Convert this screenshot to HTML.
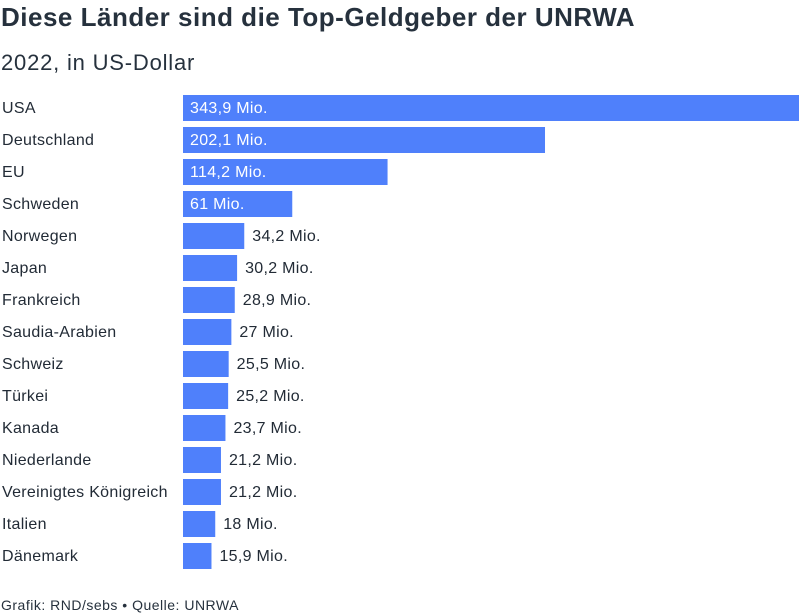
<!DOCTYPE html>
<html><head><meta charset="utf-8"><style>
body{margin:0;width:800px;height:616px;background:#fff;font-family:"Liberation Sans",sans-serif;color:#222b36;overflow:hidden;position:relative}
#title{position:absolute;left:1px;top:2px;font-size:26px;font-weight:bold;color:#26313d;letter-spacing:0.5px;white-space:nowrap}
#sub{position:absolute;left:1px;top:50px;font-size:22px;color:#26313d;letter-spacing:0.8px;white-space:nowrap}
#foot{position:absolute;left:1px;top:597px;font-size:14px;color:#26313d;letter-spacing:0.5px;white-space:nowrap}
svg{position:absolute;left:0;top:0}
</style></head><body>
<div id="title">Diese Länder sind die Top-Geldgeber der UNRWA</div>
<div id="sub">2022, in US-Dollar</div>
<svg id="chart" width="800" height="616"></svg>
<div id="foot">Grafik: RND/sebs • Quelle: UNRWA</div>
<script>
const categories=["USA","Deutschland","EU","Schweden","Norwegen","Japan","Frankreich","Saudia-Arabien","Schweiz","Türkei","Kanada","Niederlande","Vereinigtes Königreich","Italien","Dänemark"];
const values=[343.9,202.1,114.2,61,34.2,30.2,28.9,27,25.5,25.2,23.7,21.2,21.2,18,15.9];
const valueLabels=["343,9 Mio.","202,1 Mio.","114,2 Mio.","61 Mio.","34,2 Mio.","30,2 Mio.","28,9 Mio.","27 Mio.","25,5 Mio.","25,2 Mio.","23,7 Mio.","21,2 Mio.","21,2 Mio.","18 Mio.","15,9 Mio."];
const svg=document.getElementById('chart');const NS="http://www.w3.org/2000/svg";
const x0=183,x1=799,maxV=Math.max(...values);
const xs=v=>v/maxV*(x1-x0);
const yTop=i=>95+i*32;
categories.forEach((c,i)=>{
 const t=document.createElementNS(NS,'text');
 
 
 t.setAttribute('x',2);t.setAttribute('y',yTop(i)+18);t.setAttribute('font-size','16');t.setAttribute('letter-spacing','0.3');t.setAttribute('fill','#222b36');t.textContent=c;svg.appendChild(t);
 const w=xs(values[i]);
 const r=document.createElementNS(NS,'rect');
 
 
 r.setAttribute('x',x0);r.setAttribute('y',yTop(i));r.setAttribute('width',w);r.setAttribute('height',26);r.setAttribute('fill','#4f80fb');svg.appendChild(r);
 const inside=w>90;
 const l=document.createElementNS(NS,'text');
 
 
 l.setAttribute('x',inside?x0+7:x0+w+8);l.setAttribute('y',yTop(i)+18);l.setAttribute('font-size','16');l.setAttribute('letter-spacing','0.3');l.setAttribute('fill',inside?'#fff':'#222b36');l.textContent=valueLabels[i];svg.appendChild(l);
});
</script>
</body></html>
